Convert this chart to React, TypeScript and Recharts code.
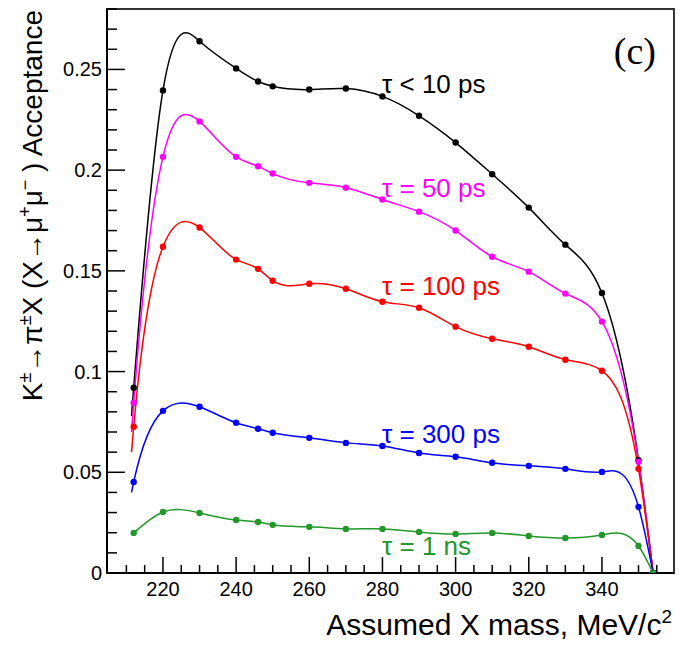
import React from 'react';
import { LineChart, Line, XAxis, YAxis, ReferenceArea } from 'recharts';

// ---- data ----
const masses = [212, 220, 230, 240, 246, 250, 260, 270, 280, 290, 300, 310, 320, 330, 340, 350, 354];
const curveStartMass = 211.4;

const accTau10ps = [0.092, 0.2396, 0.264, 0.2505, 0.244, 0.2416, 0.240, 0.2405, 0.2366, 0.227, 0.2137, 0.198, 0.1814, 0.163, 0.139, 0.056, 0];
const accTau50ps = [0.0845, 0.2066, 0.2242, 0.2066, 0.2019, 0.1983, 0.1937, 0.1913, 0.1854, 0.1794, 0.170, 0.157, 0.1496, 0.1387, 0.1248, 0.0552, 0];
const accTau100ps = [0.0726, 0.162, 0.1715, 0.1556, 0.151, 0.1451, 0.1436, 0.1411, 0.1347, 0.1317, 0.1223, 0.1163, 0.1123, 0.1059, 0.1004, 0.0517, 0];
const accTau300ps = [0.0452, 0.0805, 0.0825, 0.0746, 0.0716, 0.0696, 0.0671, 0.0646, 0.0631, 0.0596, 0.0577, 0.0547, 0.0532, 0.0517, 0.0502, 0.0328, 0];
const accTau1ns = [0.0199, 0.0303, 0.0298, 0.0263, 0.0253, 0.0239, 0.0229, 0.0219, 0.0219, 0.0204, 0.0194, 0.0199, 0.0184, 0.0174, 0.0189, 0.0134, 0];

// where each smooth curve begins (no marker), null = starts at first marker
const curveStartValues = [0.078, 0.070, 0.060, 0.040, null];

const seriesLabels = ['τ < 10 ps', 'τ = 50 ps', 'τ = 100 ps', 'τ = 300 ps', 'τ = 1 ns'];
const seriesColors = ['#000000', '#ff00ff', '#ff0000', '#0000ff', '#23982a'];
const seriesValues = [accTau10ps, accTau50ps, accTau100ps, accTau300ps, accTau1ns];

const xTicks = [210, 215, 220, 225, 230, 235, 240, 245, 250, 255, 260, 265, 270, 275, 280, 285, 290, 295, 300, 305, 310, 315, 320, 325, 330, 335, 340, 345, 350, 355];
const xTickLabels = [220, 240, 260, 280, 300, 320, 340];
const yTicks = [0, 0.01, 0.02, 0.03, 0.04, 0.05, 0.06, 0.07, 0.08, 0.09, 0.1, 0.11, 0.12, 0.13, 0.14, 0.15, 0.16, 0.17, 0.18, 0.19, 0.2, 0.21, 0.22, 0.23, 0.24, 0.25, 0.26, 0.27, 0.28];
const yTickLabels = [0, 0.05, 0.1, 0.15, 0.2, 0.25];

const X_DOMAIN: [number, number] = [204.7, 359.7];
const Y_DOMAIN: [number, number] = [0, 0.28];

// ---- natural cubic spline (y as a function of x), used as a d3 curve factory ----
function naturalSplineX(context: any) {
  let xs: number[] = [];
  let ys: number[] = [];
  return {
    areaStart() {},
    areaEnd() {},
    lineStart() {
      xs = [];
      ys = [];
    },
    point(x: number, y: number) {
      xs.push(+x);
      ys.push(+y);
    },
    lineEnd() {
      const n = xs.length;
      if (n === 0) return;
      context.moveTo(xs[0], ys[0]);
      if (n === 1) return;
      if (n === 2) {
        context.lineTo(xs[1], ys[1]);
        return;
      }
      const h: number[] = [];
      for (let i = 0; i < n - 1; i++) h.push(xs[i + 1] - xs[i]);
      const a: number[] = [];
      const b: number[] = [];
      const c: number[] = [];
      const r: number[] = [];
      for (let i = 1; i < n - 1; i++) {
        a.push(h[i - 1]);
        b.push(2 * (h[i - 1] + h[i]));
        c.push(h[i]);
        r.push(6 * ((ys[i + 1] - ys[i]) / h[i] - (ys[i] - ys[i - 1]) / h[i - 1]));
      }
      const m = a.length;
      for (let i = 1; i < m; i++) {
        const w = a[i] / b[i - 1];
        b[i] -= w * c[i - 1];
        r[i] -= w * r[i - 1];
      }
      const sol = new Array(m).fill(0);
      sol[m - 1] = r[m - 1] / b[m - 1];
      for (let i = m - 2; i >= 0; i--) sol[i] = (r[i] - c[i] * sol[i + 1]) / b[i];
      const M = new Array(n).fill(0);
      for (let i = 0; i < m; i++) M[i + 1] = sol[i];
      for (let i = 0; i < n - 1; i++) {
        const hi = h[i];
        const s = (ys[i + 1] - ys[i]) / hi;
        const d0 = s - (hi * (2 * M[i] + M[i + 1])) / 6;
        const d1 = s + (hi * (M[i] + 2 * M[i + 1])) / 6;
        context.bezierCurveTo(
          xs[i] + hi / 3, ys[i] + (d0 * hi) / 3,
          xs[i + 1] - hi / 3, ys[i + 1] - (d1 * hi) / 3,
          xs[i + 1], ys[i + 1]
        );
      }
    },
  };
}

function buildRows(values: number[], start: number | null) {
  const rows: { x: number; v: number; m: boolean }[] = [];
  if (start !== null) rows.push({ x: curveStartMass, v: start, m: false });
  masses.forEach((x, i) => rows.push({ x, v: values[i], m: true }));
  return rows;
}

const FONT = '"Liberation Sans", Arial, Helvetica, sans-serif';

const XTick = (props: any) => {
  const { x, y, payload } = props;
  const v = payload.value;
  const major = xTickLabels.includes(v);
  return (
    <g>
      <line x1={x} x2={x} y1={y} y2={y - (major ? 16 : 8)} stroke="#000" strokeWidth={1.5} />
      {major && (
        <text x={x} y={y + 23} textAnchor="middle" fontSize={20} fontFamily={FONT} fill="#000">
          {v}
        </text>
      )}
    </g>
  );
};

const YTick = (props: any) => {
  const { x, y, payload } = props;
  const v = payload.value;
  const major = yTickLabels.includes(v);
  return (
    <g>
      <line x1={x} x2={x + (major ? 18 : 10)} y1={y} y2={y} stroke="#000" strokeWidth={1.5} />
      {major && (
        <text x={x - 5} y={y + 7} textAnchor="end" fontSize={20} fontFamily={FONT} fill="#000">
          {String(v)}
        </text>
      )}
    </g>
  );
};

const labelBaselines = [93, 197, 295, 443, 555];

export default function App() {
  return (
    <div style={{ position: 'absolute', left: 0, top: 0, width: 680, height: 646, background: '#fff' }}>
      <LineChart width={680} height={646} margin={{ top: 9, right: 6, bottom: 0, left: 0 }}>
        <XAxis
          type="number"
          dataKey="x"
          domain={X_DOMAIN}
          allowDataOverflow
          ticks={xTicks}
          interval={0}
          height={73}
          tickSize={0}
          tickMargin={0}
          tickLine={false}
          tick={<XTick />}
          axisLine={{ stroke: '#000', strokeWidth: 2 }}
        />
        <YAxis
          type="number"
          domain={Y_DOMAIN}
          allowDataOverflow
          ticks={yTicks}
          interval={0}
          width={107}
          tickSize={0}
          tickMargin={0}
          tickLine={false}
          tick={<YTick />}
          axisLine={{ stroke: '#000', strokeWidth: 2 }}
        />
        <ReferenceArea
          x1={X_DOMAIN[0]}
          x2={X_DOMAIN[1]}
          y1={Y_DOMAIN[0]}
          y2={Y_DOMAIN[1]}
          fill="none"
          fillOpacity={0}
          stroke="#333"
          strokeWidth={2}
          ifOverflow="visible"
        />
        {seriesValues.map((vals, si) => (
          <Line
            key={seriesLabels[si]}
            data={buildRows(vals, curveStartValues[si])}
            dataKey="v"
            type={naturalSplineX as any}
            stroke={seriesColors[si]}
            strokeWidth={1.5}
            isAnimationActive={false}
            activeDot={false}
            dot={(p: any) =>
              p.payload.m ? (
                <circle key={`d-${si}-${p.index}`} cx={p.cx} cy={p.cy} r={3.2} fill={seriesColors[si]} stroke="none" />
              ) : (
                <g key={`d-${si}-${p.index}`} />
              )
            }
          />
        ))}
      </LineChart>
      <svg
        width={680}
        height={646}
        style={{ position: 'absolute', left: 0, top: 0, pointerEvents: 'none' }}
      >
        {seriesLabels.map((t, i) => (
          <text key={t} x={382} y={labelBaselines[i]} fontSize={26} fontFamily={FONT} fill={seriesColors[i]}>
            {t}
          </text>
        ))}
        <text x={656} y={64} textAnchor="end" fontSize={38} fontFamily='"Liberation Serif", "DejaVu Serif", serif' fill="#000">
          (c)
        </text>
        <text x={672} y={635} textAnchor="end" fontSize={30} fontFamily={FONT} fill="#000">
          Assumed X mass, MeV/c
          <tspan fontSize={19} dy={-12}>2</tspan>
        </text>
        <text transform="translate(42,10) rotate(-90)" textAnchor="end" fontSize={28} fontFamily={FONT} fill="#000">
          K<tspan fontSize={18} dy={-11}>±</tspan>
          <tspan dy={11}>→π</tspan>
          <tspan fontSize={18} dy={-11}>±</tspan>
          <tspan dy={11}>X (X→μ</tspan>
          <tspan fontSize={18} dy={-11}>+</tspan>
          <tspan dy={11}>μ</tspan>
          <tspan fontSize={18} dy={-11}>−</tspan>
          <tspan dy={11}> ) Acceptance</tspan>
        </text>
      </svg>
    </div>
  );
}
